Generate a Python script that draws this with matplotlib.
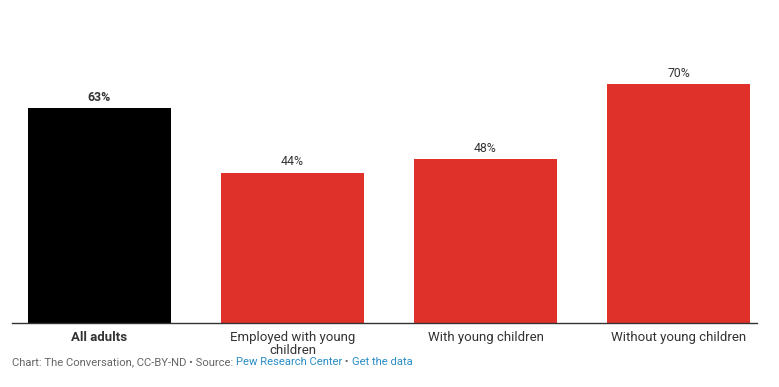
import numpy as np
import matplotlib.pyplot as plt

plt.rcParams['font.family'] = ['Roboto', 'DejaVu Sans']

categories = ["All adults", "Employed with young\nchildren", "With young children", "Without young children"]
values = [63, 44, 48, 70]
colors = ["#000000", "#e0302a", "#e0302a", "#e0302a"]

fig = plt.figure(figsize=(7.79, 3.87), dpi=100)
ax = fig.add_axes([12/779, 64/387, 745/779, 323/387])

x = np.arange(len(categories))
bars = ax.bar(x, values, width=0.74, color=colors)

for i, (xi, v) in enumerate(zip(x, values)):
    ax.text(xi, v + 1.3, f"{v}%", ha="center", va="bottom", fontsize=8.8,
            color="#333333", fontweight="bold" if i == 0 else "normal")

ax.set_xlim(-0.453, 3.407)
ax.set_ylim(0, 94.7)
ax.set_xticks(x)
ax.set_xticklabels(categories, fontsize=9.5, color="#333333", linespacing=1.0)
ax.get_xticklabels()[0].set_fontweight("bold")
ax.tick_params(axis="x", length=0, pad=6)
ax.set_yticks([])
for s in ["top", "right", "left"]:
    ax.spines[s].set_visible(False)
ax.spines["bottom"].set_color("#333333")
ax.spines["bottom"].set_linewidth(1)

# source line with link-coloured parts
parts = [("Chart: The Conversation, CC-BY-ND \u2022 Source: ", "#666666"),
         ("Pew Research Center", "#2a8dc6"),
         (" \u2022 ", "#666666"),
         ("Get the data", "#2a8dc6")]
prev = fig.text(12/779, 1 - 362/387, parts[0][0], fontsize=8.1, color=parts[0][1], va="center")
for txt, c in parts[1:]:
    prev = ax.annotate(txt, xy=(1, 0), xycoords=prev, fontsize=8.1, color=c,
                       va="bottom", annotation_clip=False)

fig.savefig("out.png", dpi=100)
